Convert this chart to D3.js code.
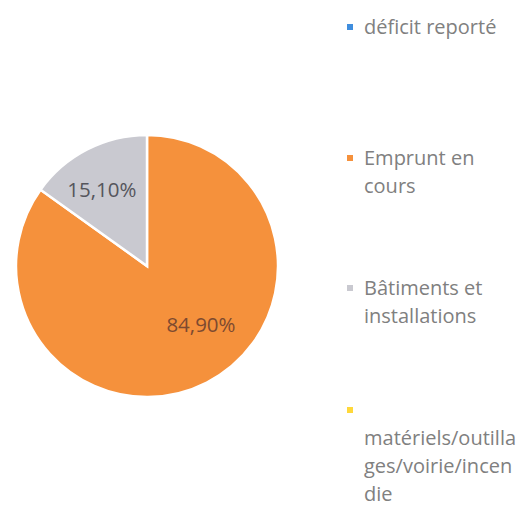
<!DOCTYPE html>
<html>
<head>
<meta charset="utf-8">
<script src="https://cdn.jsdelivr.net/npm/d3@7"></script>
<style>
  body { margin: 0; background: #fff; }
  text { font-family: "Open Sans", Lato, sans-serif; }
</style>
</head>
<body>
<svg id="chart"></svg>
<script>
// data
const categories = ["déficit reporté", "Emprunt en cours", "Bâtiments et installations", "matériels/outillages/voirie/incendie"];
const values = [0, 84.9, 15.1, 0];
const valueLabels = ["", "84,90%", "15,10%", ""];
const legendLines = [
    ["déficit reporté"],
    ["Emprunt en", "cours"],
    ["Bâtiments et", "installations"],
    ["", "matériels/outilla", "ges/voirie/incen", "die"]
];
const colors = ["#3f8ede", "#f5913c", "#c9c9d0", "#ffd83a"];

const width = 529, height = 514;
const cx = 147, cy = 266, radius = 131;

const svg = d3.select("#chart")
    .attr("width", width)
    .attr("height", height);

const data = categories.map((c, i) => ({ name: c, value: values[i], label: valueLabels[i], color: colors[i] }));

const pie = d3.pie().sort(null).value(d => d.value);
const arc = d3.arc().innerRadius(0).outerRadius(radius);

const g = svg.append("g")
    .attr("transform", `translate(${cx}, ${cy})`);

const slices = pie(data).filter(d => d.data.value > 0);

g.selectAll("path")
    .data(slices)
    .enter()
    .append("path")
    .attr("d", arc)
    .attr("fill", d => d.data.color)
    .attr("stroke", "#fff")
    .attr("stroke-width", 2.5);

// label placement like Excel "best fit": big slice label pulled toward the centre
function labelPos(d) {
    const mid = (d.startAngle + d.endAngle) / 2;
    const big = d.data.value > 50;
    const a = mid + (big ? -0.267 : -0.058);
    const r = radius * (big ? 0.61 : 0.68);
    return [r * Math.sin(a), -r * Math.cos(a)];
}

g.selectAll("text.lbl")
    .data(slices)
    .enter()
    .append("text")
    .attr("class", "lbl")
    .attr("transform", d => `translate(${labelPos(d)})`)
    .attr("text-anchor", "middle")
    .attr("dy", "0.36em")
    .attr("font-size", 20.5)
    .attr("fill", d => d.data.value > 50 ? "#7d4a30" : "#55555c")
    .text(d => d.data.label);

// legend on the right
const legendTop = [27, 158, 288, 410];
const legend = svg.append("g");

categories.forEach((c, i) => {
    const item = legend.append("g")
        .attr("transform", `translate(347, ${legendTop[i]})`);

    item.append("rect")
        .attr("x", 0)
        .attr("y", -3)
        .attr("width", 6)
        .attr("height", 6)
        .attr("fill", colors[i]);

    legendLines[i].forEach((line, j) => {
        item.append("text")
            .attr("x", 17)
            .attr("y", j * 28)
            .attr("dy", "0.36em")
            .attr("font-size", 20)
            .attr("fill", "#808080")
            .text(line);
    });
});
</script>
</body>
</html>
